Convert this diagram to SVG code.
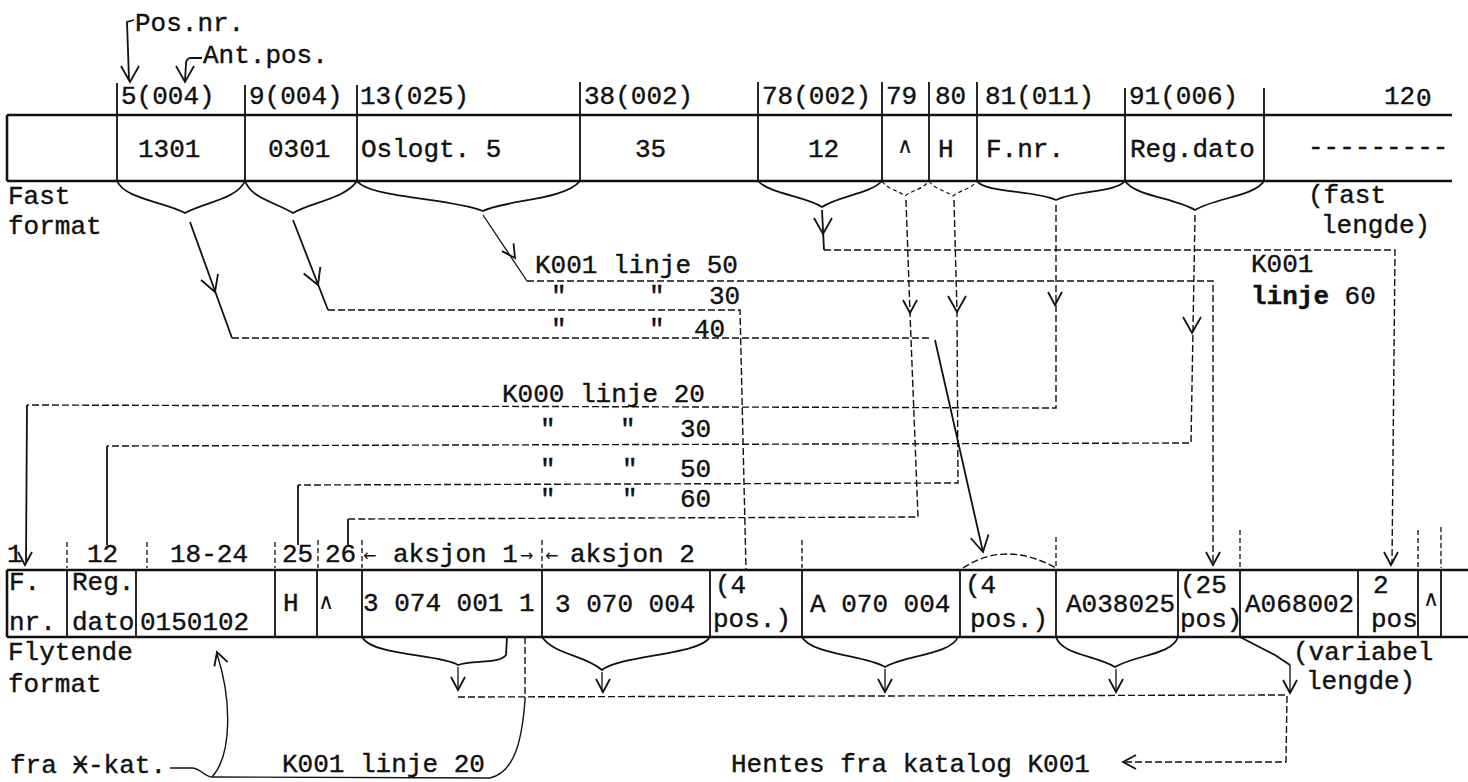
<svg xmlns="http://www.w3.org/2000/svg" xmlns:xlink="http://www.w3.org/1999/xlink" width="1468" height="782" viewBox="0 0 1468 782">
<style>
.t{font-family:"Liberation Mono","DejaVu Sans Mono",monospace;font-size:26px;fill:#111;stroke:#111;stroke-width:0.4}
.s{font-family:"DejaVu Sans","Liberation Sans",sans-serif;font-size:22px;fill:#111}
.tbl{stroke:#111;stroke-width:2.6;fill:none}
.bar{stroke:#111;stroke-width:1.8;fill:none}
.hb{stroke:#111;stroke-width:1.3;fill:none;stroke-dasharray:5 3}
.br{stroke:#111;stroke-width:1.8;fill:none}
.brd{stroke:#111;stroke-width:1.2;fill:none;stroke-dasharray:4 3}
.sl{stroke:#111;stroke-width:1.8;fill:none}
.dl{stroke:#111;stroke-width:1.4;fill:none;stroke-dasharray:7 3}
.ah{stroke:#111;stroke-width:1.8;fill:none}
</style>
<defs>
<path id="a" d="M-7,-13 L0,0 L7,-13"/>
<path id="A" d="M-9,-16 L0,0 L9,-16"/>
</defs>

<g id="fixed-table">
<path class="tbl" d="M7,115 H1452 M7,181 H1452 M7,115 V181"/>
<path class="bar" d="M117,83 V181 M245,85 V181 M357,85 V181 M580,82 V181 M758,82 V181 M882,82 V181 M929,82 V181 M977,82 V181 M1125,88 V181 M1264,88 V181"/>
<text class="t" x="121" y="104">5(004)</text>
<text class="t" x="249" y="104">9(004)</text>
<text class="t" x="360" y="104">13(025)</text>
<text class="t" x="584" y="104">38(002)</text>
<text class="t" x="762" y="104">78(002)</text>
<text class="t" x="886" y="104">79</text>
<text class="t" x="935" y="104">80</text>
<text class="t" x="985" y="104">81(011)</text>
<text class="t" x="1129" y="104">91(006)</text>
<text class="t" x="1384" y="104">12<tspan x="1416" y="106">0</tspan></text>
<text class="t" x="138" y="157">1301</text>
<text class="t" x="268" y="157">0301</text>
<text class="t" x="361" y="157">Oslogt. 5</text>
<text class="t" x="635" y="157">35</text>
<text class="t" x="808" y="157">12</text>
<text class="s" x="897" y="153">∧</text>
<text class="t" x="938" y="157">H</text>
<text class="t" x="986" y="157">F.nr.</text>
<text class="t" x="1130" y="157">Reg.dato</text>
<text class="t" x="1308" y="155">---------</text>
</g>

<g id="fixed-labels">
<text class="t" x="135" y="31">Pos.nr.</text>
<text class="t" x="203" y="63">Ant.pos.</text>
<text class="t" x="8" y="204">Fast</text>
<text class="t" x="8" y="234">format</text>
<text class="t" x="1308" y="203">(fast</text>
<text class="t" x="1321" y="233">lengde)</text>
</g>

<g id="catalog-labels">
<text class="t" x="535" y="273">K001 linje 50</text>
<text class="t" x="551" y="304">"</text><text class="t" x="649" y="304">"</text><text class="t" x="709" y="304">30</text>
<text class="t" x="551" y="337">"</text><text class="t" x="649" y="337">"</text><text class="t" x="694" y="337">40</text>
<text class="t" x="1251" y="272">K001</text>
<text class="t" x="1251" y="304" style="font-weight:bold">linje<tspan style="font-weight:normal"> 60</tspan></text>
<text class="t" x="502" y="402">K000 linje 20</text>
<text class="t" x="540" y="437">"</text><text class="t" x="620" y="437">"</text><text class="t" x="680" y="437">30</text>
<text class="t" x="540" y="477">"</text><text class="t" x="622" y="477">"</text><text class="t" x="680" y="477">50</text>
<text class="t" x="540" y="507">"</text><text class="t" x="622" y="507">"</text><text class="t" x="680" y="507">60</text>
</g>

<g id="float-table">
<path class="tbl" d="M7,570 H1468 M7,637 H1468 M7,570 V637"/>
<path class="bar" d="M67,570 V637 M136,570 V637 M275,570 V637 M317,570 V637 M362,570 V637 M542,570 V637 M710,570 V637 M802,570 V637 M960,570 V637 M1056,570 V637 M1178,570 V637 M1240,570 V637 M1358,570 V637 M1418,570 V637 M1441,570 V637"/>
<path class="hb" d="M67,542 V568 M147,542 V568 M275,542 V568 M318,540 V568 M362,540 V568 M542,540 V568 M802,540 V568 M1056,537 V568 M1240,530 V568 M1418,530 V568 M1441,527 V568"/>
<text class="t" x="7" y="562">1</text>
<text class="t" x="87" y="562">12</text>
<text class="t" x="170" y="562">18-24</text>
<text class="t" x="282" y="562">25</text>
<text class="t" x="325" y="562">26</text>
<text class="s" x="363" y="561" style="font-size:16px">←</text>
<text class="t" x="393" y="562">aksjon 1</text>
<text class="s" x="520" y="561" style="font-size:16px">→</text>
<text class="s" x="545" y="561" style="font-size:16px">←</text>
<text class="t" x="570" y="562">aksjon 2</text>
<text class="t" x="9" y="590">F.</text>
<text class="t" x="9" y="630">nr.</text>
<text class="t" x="72" y="590">Reg.</text>
<text class="t" x="72" y="630">dato</text>
<text class="t" x="140" y="630">0150102</text>
<text class="t" x="283" y="611">H</text>
<text class="s" x="318" y="609">∧</text>
<text class="t" x="363" y="611">3 074 001 1</text>
<text class="t" x="555" y="612">3 070 004</text>
<text class="t" x="715" y="593">(4</text>
<text class="t" x="713" y="627">pos.)</text>
<text class="t" x="810" y="612">A 070 004</text>
<text class="t" x="965" y="593">(4</text>
<text class="t" x="970" y="627">pos.)</text>
<text class="t" x="1066" y="612">A038025</text>
<text class="t" x="1180" y="593">(25</text>
<text class="t" x="1180" y="627">pos)</text>
<text class="t" x="1245" y="612">A068002</text>
<text class="t" x="1373" y="593">2</text>
<text class="t" x="1371" y="627">pos</text>
<text class="s" x="1423" y="606">∧</text>
</g>

<g id="float-labels">
<text class="t" x="8" y="660">Flytende</text>
<text class="t" x="8" y="692">format</text>
<text class="t" x="1293" y="660">(variabel</text>
<text class="t" x="1306" y="689">lengde)</text>
<text class="t" x="10" y="773">fra Ӿ-kat.</text>
<text class="t" x="282" y="772">K001 linje 20</text>
<text class="t" x="731" y="772">Hentes fra katalog K001</text>
</g>

<g id="connectors">
<path class="sl" d="M134,20 L127,22 L129,80"/>
<use href="#A" class="ah" transform="translate(130,82)"/>
<path class="sl" d="M202,58 L190,58 Q186,59 186,64 L185,80"/>
<use href="#A" class="ah" transform="translate(185,82)"/>
<path class="br" d="M117,181 C125,199 165,202 185,213 C205,202 237,199 245,181"/>
<path class="br" d="M245,181 C252,199 275,202 293,213 C311,202 345,199 357,181"/>
<path class="br" d="M357,181 C370,198 450,198 483,211 C505,200 565,200 580,181"/>
<path class="br" d="M758,181 C770,194 805,196 822,207 C838,196 870,194 882,181"/>
<path class="brd" d="M882,181 C888,190 898,190 905,196 C912,190 922,190 929,181"/>
<path class="brd" d="M929,181 C935,190 945,190 953,196 C960,190 970,190 977,181"/>
<path class="br" d="M977,181 C985,193 1035,190 1056,200 C1075,190 1115,193 1125,181"/>
<path class="br" d="M1125,181 C1135,196 1175,198 1195,210 C1215,198 1255,196 1264,181"/>
<path class="sl" d="M190,222 L232,338"/>
<use href="#A" class="ah" transform="translate(215,292) rotate(-20)"/>
<path class="dl" d="M232,338 L930,338"/>
<path class="sl" d="M935,340 L983,552"/>
<use href="#A" class="ah" transform="translate(983,552) rotate(-12)"/>
<path class="dl" d="M963,568 Q1005,540 1056,568"/>
<path class="sl" d="M293,220 L328,310"/>
<use href="#A" class="ah" transform="translate(318,285) rotate(-22)"/>
<path class="dl" d="M328,310 L740,310 L746,570"/>
<path class="sl" style="stroke-width:1.3" d="M483,215 L527,281"/>
<use href="#a" class="ah" transform="translate(515,258) rotate(-34)"/>
<path class="dl" d="M527,281 L1213,281 L1213,563"/>
<use href="#a" class="ah" transform="translate(1213,565)"/>
<path class="sl" d="M822,210 L824,250"/>
<use href="#A" class="ah" transform="translate(823,234)"/>
<path class="dl" d="M824,250 L1395,250 L1392,563"/>
<use href="#a" class="ah" transform="translate(1391,565)"/>
<path class="dl" d="M906,200 L910,313 L918,517 L348,519"/>
<use href="#a" class="ah" transform="translate(910,313)"/>
<path class="sl" d="M348,519 L348,545"/>
<path class="dl" d="M954,200 L957,312 L958,483 L298,485"/>
<use href="#A" class="ah" transform="translate(957,312)"/>
<path class="sl" d="M298,485 L298,545"/>
<path class="dl" d="M1056,205 L1056,408 L27,405"/>
<use href="#a" class="ah" transform="translate(1055,305)"/>
<path class="sl" d="M27,405 L26,562"/>
<use href="#a" class="ah" transform="translate(25,565)"/>
<path class="dl" d="M1195,215 L1191,443 L107,446"/>
<use href="#A" class="ah" transform="translate(1192,333)"/>
<path class="sl" d="M107,446 L107,545"/>
<path class="br" d="M362,637 C372,656 440,654 458,665 C472,660 500,664 506,655 L507,637"/>
<path class="br" d="M542,637 C555,655 585,655 602,670 C620,655 700,655 710,637"/>
<path class="br" d="M802,637 C812,655 865,655 885,667 C905,655 950,655 958,637"/>
<path class="br" d="M1056,637 C1062,655 1095,655 1115,667 C1135,655 1172,655 1178,637"/>
<path class="br" d="M1240,637 L1275,655 L1290,665"/>
<path class="sl" style="stroke-width:1.3" d="M458,667 V690 M602,672 V692 M885,669 V692 M1116,669 V692 M1290,665 V693"/>
<use href="#a" class="ah" transform="translate(458,690)"/>
<use href="#a" class="ah" transform="translate(603,692)"/>
<use href="#a" class="ah" transform="translate(885,692)"/>
<use href="#a" class="ah" transform="translate(1116,692)"/>
<use href="#a" class="ah" transform="translate(1290,693)"/>
<path class="dl" d="M458,697 L1287,695 L1286,762 L1125,762"/>
<use href="#a" class="ah" transform="translate(1123,762) rotate(90)"/>
<path class="dl" d="M525,637 L525,700"/>
<path class="sl" style="stroke-width:1.4" d="M525,700 C522,740 515,772 490,778 L212,777"/>
<path class="sl" style="stroke-width:1.4" d="M170,768 L192,768 C200,768 205,777 212,777"/>
<path class="sl" style="stroke-width:1.4" d="M217,654 C232,700 232,755 212,777"/>
<use href="#a" class="ah" transform="translate(217,652) rotate(162)"/>
</g>
</svg>
